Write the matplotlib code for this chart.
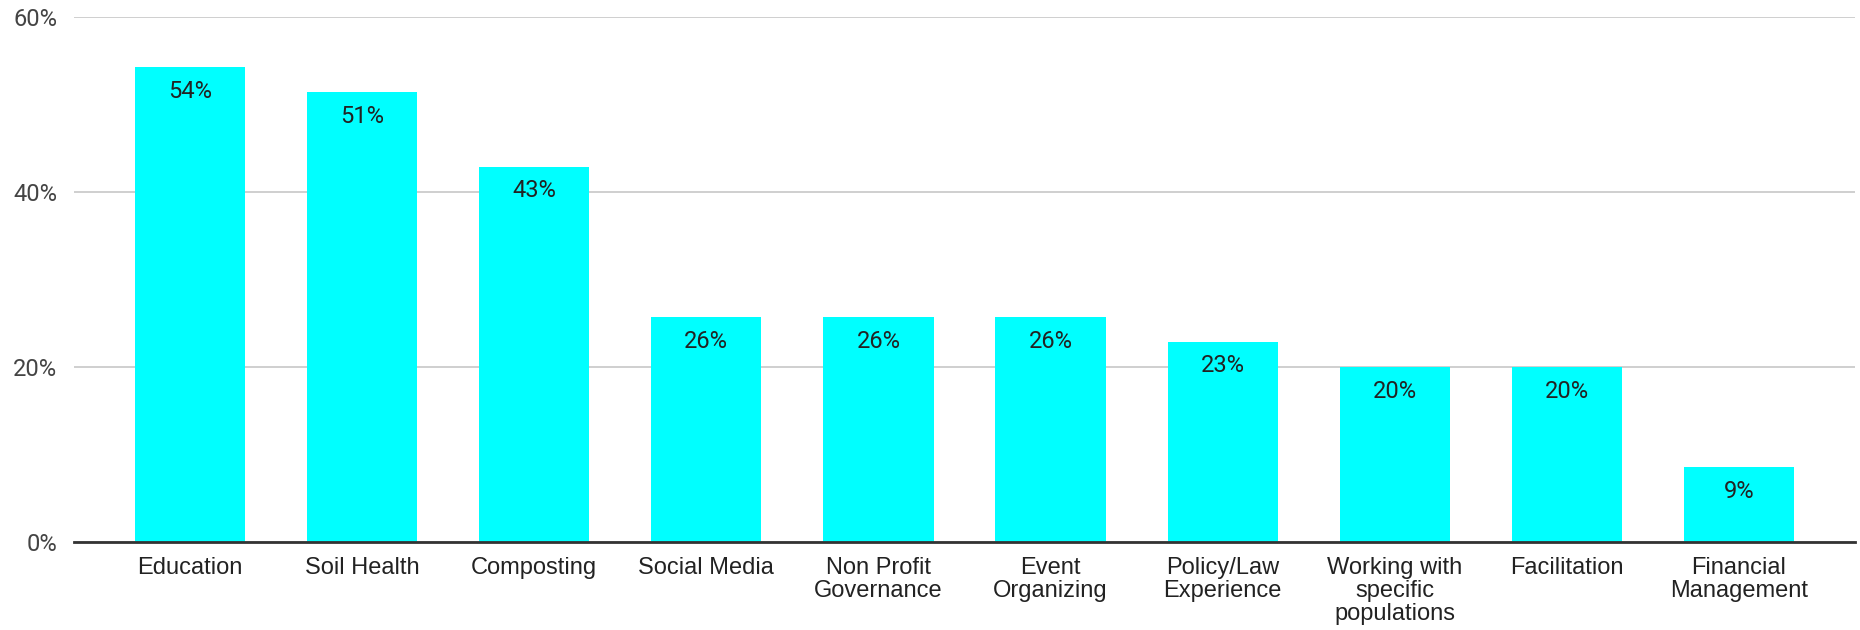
import numpy as np
import matplotlib.pyplot as plt

categories = ['Education', 'Soil Health', 'Composting', 'Social Media',
              'Non Profit\nGovernance', 'Event\nOrganizing', 'Policy/Law\nExperience',
              'Working with\nspecific\npopulations', 'Facilitation', 'Financial\nManagement']
values = [54.3, 51.4, 42.9, 25.7, 25.7, 25.7, 22.9, 20.0, 20.0, 8.6]
yticks = [0, 20, 40, 60]

plt.rcParams['font.family'] = ['Roboto', 'DejaVu Sans']

fig = plt.figure(figsize=(18.6, 6.3), dpi=100)
ax = fig.add_axes([0.0398, 0.1397, 0.9575, 0.8333])

x = np.arange(len(categories))
ax.bar(x, values, width=0.64, color='#00ffff', zorder=3)

for xi, v in zip(x, values):
    ax.annotate(f'{v:.0f}%', (xi, v), xytext=(0, -17.5), textcoords='offset points',
                ha='center', va='center', fontsize=17, color='#222222', zorder=4)

ax.set_xlim(-0.674, len(categories) - 1 + 0.674)
ax.set_ylim(0, 60)
ax.set_yticks(yticks)
ax.set_yticklabels([f'{t}%' for t in yticks], fontsize=17, color='#444444')
ax.set_xticks(x)
ax.set_xticklabels(categories, fontsize=17, color='#222222',
                   family=['Liberation Sans', 'DejaVu Sans'], linespacing=1.06)
ax.tick_params(axis='both', length=0)
ax.tick_params(axis='y', pad=12)
ax.tick_params(axis='x', pad=11)

ax.grid(axis='y', color='#cccccc', linewidth=1.3, zorder=0)
for s in ['top', 'right', 'left']:
    ax.spines[s].set_visible(False)
ax.spines['bottom'].set_color('#333333')
ax.spines['bottom'].set_linewidth(2)
ax.spines['bottom'].set_zorder(5)

fig.savefig('out.png', dpi=100)
